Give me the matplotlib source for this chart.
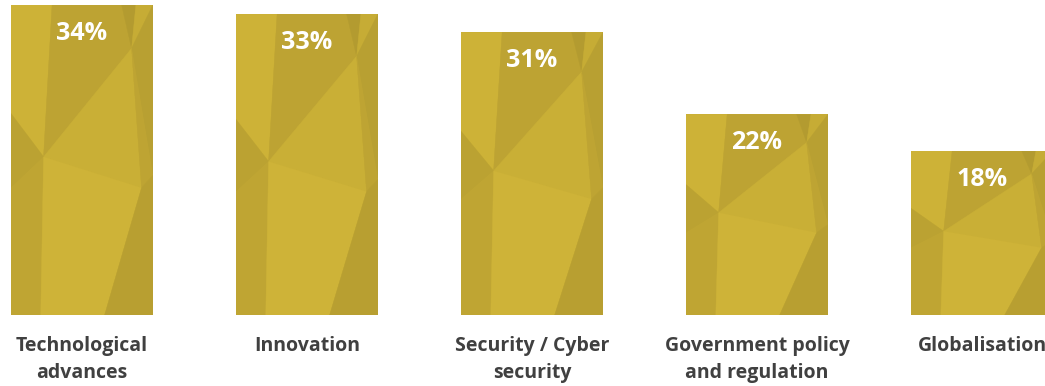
import matplotlib
matplotlib.use("Agg")
import matplotlib.pyplot as plt
from matplotlib.patches import Polygon

plt.rcParams['font.family'] = ['Open Sans', 'DejaVu Sans']

# Survey results
categories = ["Technological\nadvances", "Innovation", "Security / Cyber\nsecurity",
              "Government policy\nand regulation", "Globalisation"]
shares = [34, 33, 31, 22, 18]
value_labels = ["34%", "33%", "31%", "22%", "18%"]

gold = "#C8AE35"
label_grey = "#404040"

# low-poly facets in bar-relative coords (u across, v up), each with its shade
facets = [
    ([(0, 1), (0.29, 1), (0.23, 0.51), (0, 0.65)], "#CDB237"),
    ([(0.29, 1), (0.78, 1), (0.85, 0.86), (0.23, 0.51)], "#BDA333"),
    ([(0.78, 1), (0.88, 1), (0.85, 0.86)], "#B39B30"),
    ([(0.88, 1), (1, 1), (0.85, 0.86)], "#C6AC35"),
    ([(0.85, 0.86), (1, 1), (1, 0.45)], "#B8A032"),
    ([(0.23, 0.51), (0.85, 0.86), (0.92, 0.41)], "#C9AF36"),
    ([(0.85, 0.86), (1, 0.45), (0.92, 0.41)], "#BEA433"),
    ([(0, 0.65), (0.23, 0.51), (0, 0.41)], "#BBA232"),
    ([(0, 0.41), (0.23, 0.51), (0.21, 0), (0, 0)], "#BFA533"),
    ([(0.23, 0.51), (0.92, 0.41), (0.66, 0), (0.21, 0)], "#CEB338"),
    ([(0.92, 0.41), (1, 0.45), (1, 0), (0.66, 0)], "#B89F31"),
]

fig = plt.figure(figsize=(10.45, 3.86), dpi=100)
ax = fig.add_axes([0, 71 / 386, 1, 315 / 386])

x = list(range(len(categories)))
bars = ax.bar(x, shares, width=0.631, color=gold, linewidth=0)

for bar in bars:
    bx, bw, bh = bar.get_x(), bar.get_width(), bar.get_height()
    for pts, shade in facets:
        poly = Polygon([(bx + u * bw, v * bh) for u, v in pts], closed=True,
                       facecolor=shade, edgecolor=shade, linewidth=0.3)
        ax.add_patch(poly)
        poly.set_clip_path(bar)

for xi, val, txt in zip(x, shares, value_labels):
    ax.annotate(txt, (xi, val), xytext=(0, -11.5), textcoords="offset points",
                ha="center", va="top", color="white", fontsize=18, fontweight="bold")

ax.set_xlim(-0.364, 4.28)
ax.set_ylim(0, 34.54)
ax.set_xticks(x, categories)
ax.tick_params(axis="x", length=0, pad=15, labelsize=14, labelcolor=label_grey)
for t in ax.get_xticklabels():
    t.set_fontweight("bold")
    t.set_linespacing(1.5)
ax.set_yticks([])
for s in ax.spines.values():
    s.set_visible(False)

fig.savefig("out.png", dpi=100)
